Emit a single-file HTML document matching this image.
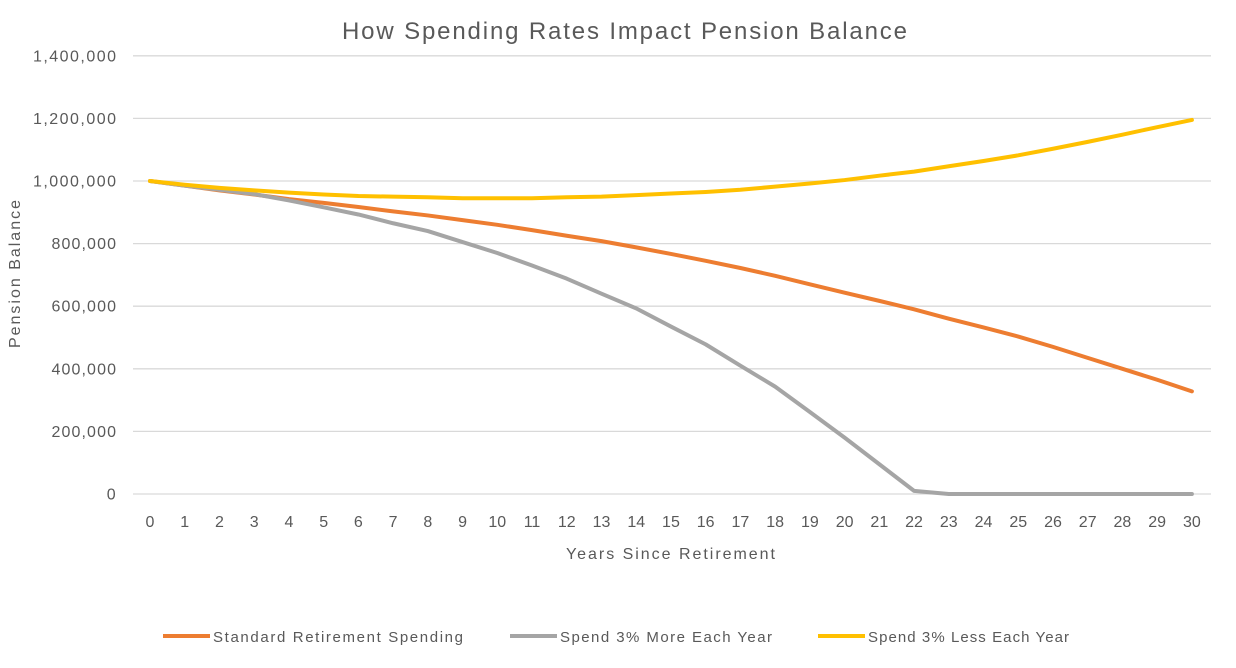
<!DOCTYPE html>
<html><head><style>
body{margin:0;background:#fff;}
svg text{font-family:"Liberation Sans",sans-serif;fill:#595959;}
</style></head><body>
<svg id="s" width="1236" height="663" xmlns="http://www.w3.org/2000/svg">
<text x="342" y="39" font-size="24" textLength="565" lengthAdjust="spacing">How Spending Rates Impact Pension Balance</text>
<text transform="translate(20,348) rotate(-90)" font-size="16" textLength="148" lengthAdjust="spacing">Pension Balance</text>
<text x="566" y="559" font-size="16" textLength="209" lengthAdjust="spacing">Years Since Retirement</text>
<g id="g"></g>
<line x1="163" y1="636" x2="210" y2="636" stroke="#ED7D31" stroke-width="4"/>
<text x="213" y="642" font-size="15" textLength="250" lengthAdjust="spacing">Standard Retirement Spending</text>
<line x1="510" y1="636" x2="557" y2="636" stroke="#A5A5A5" stroke-width="4"/>
<text x="560" y="642" font-size="15" textLength="212" lengthAdjust="spacing">Spend 3% More Each Year</text>
<line x1="818" y1="636" x2="865" y2="636" stroke="#FFC000" stroke-width="4"/>
<text x="868" y="642" font-size="15" textLength="201" lengthAdjust="spacing">Spend 3% Less Each Year</text>
</svg>
<script>
var g=document.getElementById('g'),h='';
function Y(v){return 494-v*62.6/200;}
function X(i){return 150+i*34.73;}
for(var k=0;k<=7;k++){var y=Y(k*200);
h+='<line x1="133" x2="1211" y1="'+y+'" y2="'+y+'" stroke="#d9d9d9" stroke-width="1.3"/>';
var l=(k*200000).toLocaleString('en-US');
var w=83*l.length/9;
h+='<text x="'+(116-w)+'" y="'+(y+5.5)+'" font-size="16" textLength="'+w+'" lengthAdjust="spacing">'+l+'</text>';}
for(var i=0;i<=30;i++)h+='<text x="'+X(i)+'" y="527" font-size="16" text-anchor="middle">'+i+'</text>';
var o=[1000,985,970,957,942,930,917,903,890,875,860,843,825,808,788,767,745,722,697,670,643,617,590,560,532,503,470,435,400,365,328];
var gr=[1000,985,972,958,938,916,893,865,840,805,770,730,688,640,593,535,478,410,343,262,180,95,10,0,0,0,0,0,0,0,0];
var yl=[1000,988,978,970,963,957,952,950,948,945,945,945,948,950,955,960,965,972,982,992,1003,1017,1030,1047,1064,1082,1103,1125,1148,1172,1195];
function P(a,c){return '<polyline fill="none" stroke="'+c+'" stroke-width="4" stroke-linecap="round" stroke-linejoin="round" points="'+a.map(function(v,i){return X(i)+','+Y(v)}).join(' ')+'"/>';}
h+=P(o,'#ED7D31')+P(gr,'#A5A5A5')+P(yl,'#FFC000');
g.innerHTML=h;
</script>
</body></html>
